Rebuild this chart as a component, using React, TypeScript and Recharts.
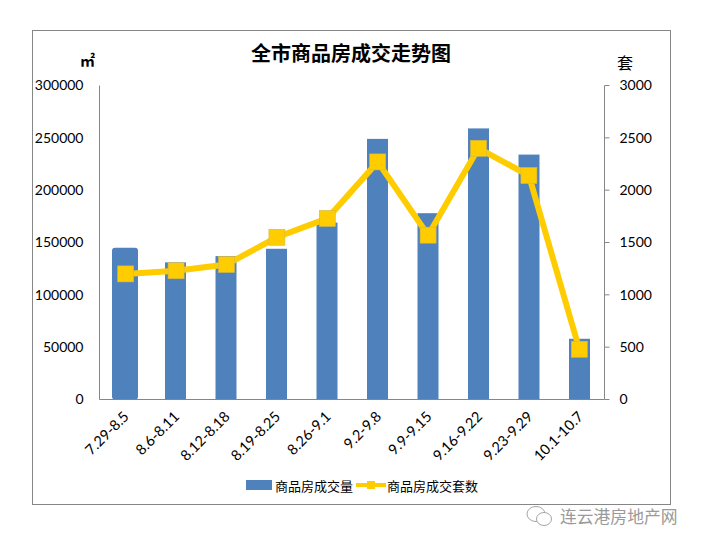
import React from "react";
import { ComposedChart, Bar, Line, XAxis, YAxis, Legend } from "recharts";

const weeks = ["7.29-8.5", "8.6-8.11", "8.12-8.18", "8.19-8.25", "8.26-9.1", "9.2-9.8", "9.9-9.15", "9.16-9.22", "9.23-9.29", "10.1-10.7"];
const areaSold = [145000, 131000, 137000, 144000, 169000, 249000, 178000, 259000, 234000, 58000];
const unitsSold = [1200, 1230, 1290, 1550, 1730, 2270, 1570, 2400, 2140, 480];
const leftTicks = [0, 50000, 100000, 150000, 200000, 250000, 300000];
const rightTicks = [0, 500, 1000, 1500, 2000, 2500, 3000];

const AREA_NAME = "商品房成交量";
const UNITS_NAME = "商品房成交套数";

const data = weeks.map((week, i) => ({ week, area: areaSold[i], units: unitsSold[i] }));

const BLUE = "#4F81BD";
const YELLOW = "#FFCC00";
const AXIS = "#868686";
const LATIN = "Lato, 'Liberation Sans', sans-serif";
const CJK = "'Noto Sans CJK SC', sans-serif";

const tickStyle = { fontSize: 14, fontFamily: LATIN, fill: "#000" };

const WeekTick = (props: any) => {
  const { x, y, payload } = props;
  return (
    <text
      x={x + 5}
      y={y + 10}
      textAnchor="end"
      transform={`rotate(-45 ${x + 5} ${y + 10})`}
      style={{ ...tickStyle, fontSize: 14.5 }}
    >
      {payload.value}
    </text>
  );
};

// the first column is a bit wider and rounder in the source picture
const AreaBar = (props: any) => {
  const { x, y, width, height, index } = props;
  const extra = index === 0 ? 2.5 : 0;
  return (
    <rect
      x={x - extra}
      y={y}
      width={width + extra * 2}
      height={height}
      rx={index === 0 ? 3 : 0}
      fill={BLUE}
    />
  );
};

const SquareDot = (props: any) => {
  const { cx, cy, index } = props;
  return (
    <rect
      key={index}
      x={cx - 8}
      y={cy - 8}
      width={16}
      height={16}
      fill={YELLOW}
      stroke="#D2B84A"
      strokeWidth={0.6}
    />
  );
};

const ChartLegend = () => (
  <div style={{ display: "flex", alignItems: "center", fontFamily: CJK, fontSize: 13, color: "#000", whiteSpace: "nowrap", height: 18 }}>
    <svg width={26} height={10} style={{ marginRight: 3 }}>
      <rect width={26} height={10} fill={BLUE} />
    </svg>
    <span style={{ width: 78 }}>{AREA_NAME}</span>
    <svg width={30} height={12} style={{ marginLeft: 3, marginRight: 1 }}>
      <line x1={0} y1={6} x2={30} y2={6} stroke={YELLOW} strokeWidth={4} />
      <rect x={11} y={2} width={8} height={8} fill={YELLOW} />
    </svg>
    <span>{UNITS_NAME}</span>
  </div>
);

const Label = ({ x, y, size, bold, color, children }: any) => (
  <div
    style={{
      position: "absolute",
      left: x,
      top: y,
      fontFamily: CJK,
      fontSize: size,
      fontWeight: bold ? 700 : 400,
      color: color || "#000",
      lineHeight: 1,
      whiteSpace: "nowrap",
    }}
  >
    {children}
  </div>
);

export default function App() {
  return (
    <div style={{ position: "absolute", left: 0, top: 0, width: 701, height: 546, background: "#fff", overflow: "hidden" }}>
      <div style={{ position: "absolute", left: 32, top: 30, width: 639, height: 475, boxSizing: "border-box", border: `1px solid ${AXIS}` }} />
      <div style={{ position: "absolute", left: 0, top: 0 }}>
        <ComposedChart
          width={701}
          height={546}
          data={data}
          margin={{ top: 85.5, right: 0.5, bottom: 46.5, left: 0.5 }}
        >
          <XAxis
            dataKey="week"
            height={100}
            interval={0}
            tickLine={false}
            axisLine={{ stroke: AXIS, strokeWidth: 1 }}
            tick={<WeekTick />}
          />
          {/* the line sits about a pixel right of the columns in the source */}
          <XAxis xAxisId="line" dataKey="week" hide padding={{ left: 1, right: 0 }} />
          <YAxis
            yAxisId="left"
            width={99}
            domain={[0, 300000]}
            ticks={leftTicks}
            interval={0}
            tickLine={false}
            tickMargin={10}
            axisLine={{ stroke: AXIS, strokeWidth: 1 }}
            tick={tickStyle}
          />
          <YAxis
            yAxisId="right"
            orientation="right"
            width={96}
            domain={[0, 3000]}
            ticks={rightTicks}
            interval={0}
            tickSize={5}
            tickMargin={10}
            tickLine={{ stroke: AXIS, strokeWidth: 1 }}
            axisLine={{ stroke: AXIS, strokeWidth: 1 }}
            tick={{ ...tickStyle, textAnchor: "start" }}
          />
          <Legend
            layout="horizontal"
            verticalAlign="middle"
            align="center"
            content={<ChartLegend />}
            wrapperStyle={{ left: 246, top: 476, width: 240 }}
          />
          <Bar yAxisId="left" dataKey="area" name={AREA_NAME} barSize={21} fill={BLUE} shape={<AreaBar />} isAnimationActive={false} />
          <Line
            xAxisId="line"
            yAxisId="right"
            dataKey="units"
            name={UNITS_NAME}
            stroke={YELLOW}
            strokeWidth={6}
            dot={<SquareDot />}
            activeDot={false}
            isAnimationActive={false}
          />
        </ComposedChart>
      </div>
      <Label x={251} y={43} size={20} bold>全市商品房成交走势图</Label>
      <Label x={80} y={52} size={15} bold>㎡</Label>
      <Label x={617} y={54} size={16}>套</Label>
      <svg style={{ position: "absolute", left: 526, top: 504 }} width={30} height={24}>
        <ellipse cx={10} cy={10} rx={9} ry={7.5} fill="#fff" stroke="#a5a5a5" />
        <ellipse cx={18} cy={15} rx={7.5} ry={6.5} fill="#fff" stroke="#a5a5a5" />
      </svg>
      <Label x={560} y={508} size={16.8} color="#9a9a9a">连云港房地产网</Label>
    </div>
  );
}
